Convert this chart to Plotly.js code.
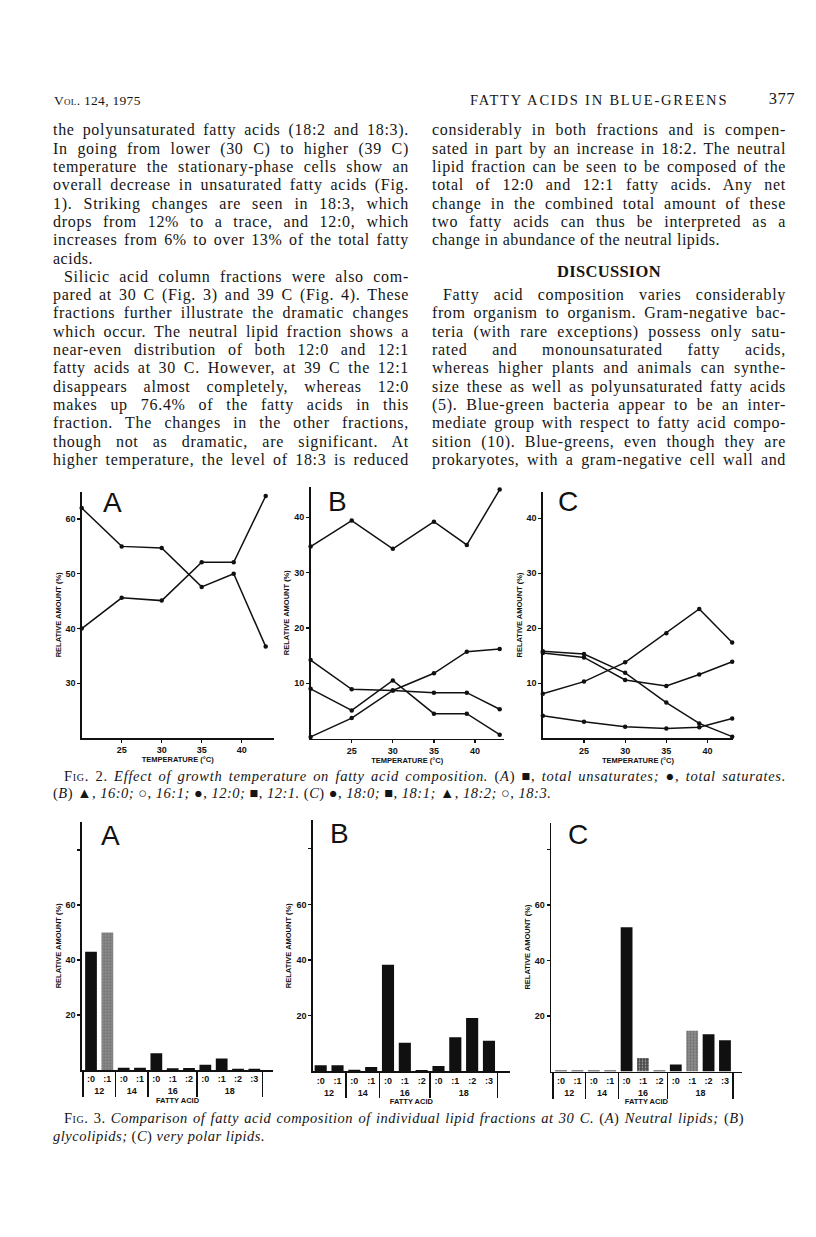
<!DOCTYPE html>
<html><head><meta charset="utf-8">
<script src="https://cdn.plot.ly/plotly-3.0.1.min.js"></script>
<style>
html,body{margin:0;padding:0;background:#fff;}
#page{position:relative;width:816px;height:1237px;overflow:hidden;background:#fff;}
#plot{position:absolute;left:0;top:0;width:816px;height:1237px;}
.ln{position:absolute;white-space:nowrap;font-family:'Liberation Serif',serif;color:#151515;}
.sc{font-variant:small-caps;}
</style></head><body>
<div id="page"><div id="plot"></div></div>
<script>
// ---------- Fig. 2 data (growth temperature, relative amount %) ----------
const temps = [20, 25, 30, 35, 39, 43];
const aTotalUnsat = [62, 55, 54.7, 47.6, 50, 36.7];
const aTotalSat   = [40, 45.6, 45.1, 52.1, 52.1, 64.2];
const b16_0 = [34.7, 39.4, 34.3, 39.2, 35, 45];
const b16_1 = [14.2, 8.9, 8.7, 8.3, 8.3, 5.3];
const b12_0 = [0.3, 3.7, 8.7, 11.8, 15.7, 16.2];
const b12_1 = [9.0, 5.1, 10.5, 4.5, 4.5, 0.7];
const c18_0 = [4.1, 3.0, 2.1, 1.8, 2.0, 3.6];
const c18_1 = [15.5, 14.7, 10.6, 9.5, 11.6, 13.9];
const c18_2 = [8.1, 10.3, 13.8, 19.1, 23.5, 17.4];
const c18_3 = [15.8, 15.3, 11.9, 6.5, 2.7, 0.3];
const tempTicks = [25, 30, 35, 40];

// ---------- Fig. 3 data (fatty acid composition at 30 C) ----------
const chainGroups = ['12','12','14','14','16','16','16','18','18','18','18'];
const bondLabels  = [':0',':1',':0',':1',':0',':1',':2',':0',':1',':2',':3'];
const neutralLipids = [43, 50, 0.8, 0.8, 6.1, 0.6, 0.7, 1.9, 4.2, 0.5, 0.5];
const glycolipids   = [2.2, 2.2, 0.6, 1.6, 38.3, 10.3, 0.5, 1.9, 12.3, 19.2, 11];
const polarLipids   = [0.4, 0.4, 0.4, 0.4, 52, 4.9, 0.4, 2.5, 14.7, 13.4, 11.3];
// bar shading: '' solid black, 'light' grey stipple, 'dark' dark stipple
const neutralShade = ['', 'light', '', '', '', '', '', '', '', '', ''];
const glycoShade   = ['', '', '', '', '', '', '', '', '', '', ''];
const polarShade   = ['', '', '', '', '', 'dark', '', '', 'light', '', ''];

const W = 816, H = 1237;
const px = v => v / W, py = v => 1 - v / H;
const INK = '#111';
const tickFont = {family: 'Liberation Sans', size: 9, color: INK, weight: 'bold'};
const titleFont = {family: 'Liberation Sans', size: 7.5, color: INK, weight: 'bold'};

function lineTrace(y, xa, ya, name) {
  return {x: temps, y: y, xaxis: xa, yaxis: ya, name: name, type: 'scatter',
    mode: 'lines+markers', cliponaxis: false,
    line: {color: INK, width: 1.5}, marker: {color: INK, size: 4.5}};
}
function barTrace(vals, shade, xa, ya, name) {
  return {x: [chainGroups, bondLabels], y: vals, xaxis: xa, yaxis: ya, name: name,
    type: 'bar', width: 0.72,
    marker: {color: shade.map(s => s === 'light' ? '#8c8c8c' : (s === 'dark' ? '#444' : '#101010')),
      line: {width: 0},
      pattern: {shape: shade.map(s => s ? '.' : ''), fgcolor: '#111',
        size: 3, solidity: 0.3, fillmode: 'overlay'}}};
}

const traces = [
  lineTrace(aTotalUnsat, 'x', 'y', 'total unsaturates'),
  lineTrace(aTotalSat, 'x', 'y', 'total saturates'),
  lineTrace(b16_0, 'x2', 'y2', '16:0'),
  lineTrace(b16_1, 'x2', 'y2', '16:1'),
  lineTrace(b12_0, 'x2', 'y2', '12:0'),
  lineTrace(b12_1, 'x2', 'y2', '12:1'),
  lineTrace(c18_0, 'x3', 'y3', '18:0'),
  lineTrace(c18_1, 'x3', 'y3', '18:1'),
  lineTrace(c18_2, 'x3', 'y3', '18:2'),
  lineTrace(c18_3, 'x3', 'y3', '18:3'),
  barTrace(neutralLipids, neutralShade, 'x4', 'y4', 'Neutral lipids'),
  barTrace(glycolipids, glycoShade, 'x5', 'y5', 'Glycolipids'),
  barTrace(polarLipids, polarShade, 'x6', 'y6', 'Very polar lipids')
];

function tempX(dom, range, anchor) {
  return {domain: dom, range: range, anchor: anchor, showline: true, linecolor: INK, linewidth: 1.5,
    showgrid: false, zeroline: false, ticks: 'outside', ticklen: 3, tickwidth: 1.2, tickcolor: INK,
    tickvals: tempTicks, ticktext: tempTicks.map(String), tickfont: tickFont,
    title: {text: 'TEMPERATURE (°C)', font: titleFont, standoff: 2}};
}
function relY(dom, range, anchor, tv) {
  return {domain: dom, range: range, anchor: anchor, showline: true, linecolor: INK, linewidth: 1.5,
    showgrid: false, zeroline: false, ticks: 'outside', ticklen: 3, tickwidth: 1.2, tickcolor: INK,
    tickvals: tv, ticktext: tv.map(v => v === 80 ? '' : String(v)), tickfont: tickFont,
    title: {text: 'RELATIVE AMOUNT (%)', font: titleFont, standoff: 3}};
}
function acidX(dom, range, anchor) {
  return {domain: dom, range: range, anchor: anchor, type: 'multicategory', showline: true,
    linecolor: INK, linewidth: 1.5, showgrid: false, zeroline: false, ticks: '',
    tickfont: tickFont, showdividers: true, dividercolor: INK, dividerwidth: 1.5,
    title: {text: 'FATTY ACID', font: titleFont, standoff: 2}};
}

function letter(t, cx, cy) {
  return {text: t, x: px(cx), y: py(cy), xref: 'paper', yref: 'paper', showarrow: false,
    xanchor: 'center', yanchor: 'middle', font: {family: 'Liberation Sans', size: 28, color: INK}};
}

const layout = {
  width: W, height: H, margin: {l: 0, r: 0, t: 0, b: 0},
  paper_bgcolor: 'rgba(0,0,0,0)', plot_bgcolor: 'rgba(0,0,0,0)', showlegend: false,
  font: {family: 'Liberation Sans', color: INK}, bargap: 0.28,
  xaxis:  tempX([px(81.7), px(273.7)], [20, 44], 'y'),
  yaxis:  relY([py(738.1), py(491.6)], [20, 65], 'x', [30, 40, 50, 60]),
  xaxis2: tempX([px(310.6), px(503.8)], [20, 43.5], 'y2'),
  yaxis2: relY([py(738.6), py(486.8)], [0, 45.5], 'x2', [10, 20, 30, 40]),
  xaxis3: tempX([px(542.8), px(733)], [20, 43.1], 'y3'),
  yaxis3: relY([py(738.3), py(491.7)], [0, 44.8], 'x3', [10, 20, 30, 40]),
  xaxis4: acidX([px(81.7), px(273.3)], [-0.57, 11.16], 'y4'),
  yaxis4: relY([py(1070), py(821.7)], [0, 90.3], 'x4', [20, 40, 60, 80]),
  xaxis5: acidX([px(312.7), px(510)], [-0.475, 11.25], 'y5'),
  yaxis5: relY([py(1071.4), py(820)], [0, 90.3], 'x5', [20, 40, 60, 80]),
  xaxis6: acidX([px(551), px(741.7)], [-0.61, 11.02], 'y6'),
  yaxis6: relY([py(1071.5), py(822.7)], [0, 89.7], 'x6', [20, 40, 60, 80]),
  annotations: [
    letter('A', 112, 502), letter('B', 337, 501), letter('C', 568, 501),
    letter('A', 110, 835), letter('B', 339, 833), letter('C', 578, 834)
  ]
};

Plotly.newPlot('plot', traces, layout, {staticPlot: true, displayModeBar: false});

// ---------- page text ----------
const page = document.getElementById('page');
function addLine(html, x, yc, width, size, opt) {
  opt = opt || {};
  const d = document.createElement('div');
  d.className = 'ln';
  d.innerHTML = html;
  d.style.fontSize = size + 'px';
  d.style.lineHeight = (size * 1.15) + 'px';
  d.style.left = x + 'px';
  d.style.top = (yc - size * 0.6) + 'px';
  if (opt.italic) d.style.fontStyle = 'italic';
  if (opt.bold) d.style.fontWeight = 'bold';
  if (opt.ls !== undefined) d.style.letterSpacing = opt.ls + 'px';
  page.appendChild(d);
  if (opt.justify) {
    const n = d.textContent.length;
    let w0 = d.getBoundingClientRect().width;
    const fill = opt.fill || 0.95;
    let ls = Math.max(0, Math.min(0.7, (fill * width - w0) / n));
    d.style.letterSpacing = ls + 'px';
    const nat = d.getBoundingClientRect().width;
    const gaps = (d.textContent.match(/ /g) || []).length;
    if (gaps > 0) d.style.wordSpacing = ((width - nat) / gaps) + 'px';
  }
  if (opt.center) {
    const w = d.getBoundingClientRect().width;
    d.style.left = (x + (width - w) / 2) + 'px';
  }
  if (opt.right) {
    const w = d.getBoundingClientRect().width;
    d.style.left = (x + width - w) + 'px';
  }
  return d;
}

const leftLines = [
  'the polyunsaturated fatty acids (18:2 and 18:3).',
  'In going from lower (30 C) to higher (39 C)',
  'temperature the stationary-phase cells show an',
  'overall decrease in unsaturated fatty acids (Fig.',
  '1). Striking changes are seen in 18:3, which',
  'drops from 12% to a trace, and 12:0, which',
  'increases from 6% to over 13% of the total fatty',
  'acids.',
  'Silicic acid column fractions were also com-',
  'pared at 30 C (Fig. 3) and 39 C (Fig. 4). These',
  'fractions further illustrate the dramatic changes',
  'which occur. The neutral lipid fraction shows a',
  'near-even distribution of both 12:0 and 12:1',
  'fatty acids at 30 C. However, at 39 C the 12:1',
  'disappears almost completely, whereas 12:0',
  'makes up 76.4% of the fatty acids in this',
  'fraction. The changes in the other fractions,',
  'though not as dramatic, are significant. At',
  'higher temperature, the level of 18:3 is reduced'
];
const rightLines = [
  ['considerably in both fractions and is compen-', 0],
  ['sated in part by an increase in 18:2. The neutral', 1],
  ['lipid fraction can be seen to be composed of the', 2],
  ['total of 12:0 and 12:1 fatty acids. Any net', 3],
  ['change in the combined total amount of these', 4],
  ['two fatty acids can thus be interpreted as a', 5],
  ['change in abundance of the neutral lipids.', 6],
  ['Fatty acid composition varies considerably', 9],
  ['from organism to organism. Gram-negative bac-', 10],
  ['teria (with rare exceptions) possess only satu-', 11],
  ['rated and monounsaturated fatty acids,', 12],
  ['whereas higher plants and animals can synthe-', 13],
  ['size these as well as polyunsaturated fatty acids', 14],
  ['(5). Blue-green bacteria appear to be an inter-', 15],
  ['mediate group with respect to fatty acid compo-', 16],
  ['sition (10). Blue-greens, even though they are', 17],
  ['prokaryotes, with a gram-negative cell wall and', 18]
];

function drawText() {
  const FS = 16, Y0 = 131, LS = 18.3;
  const LX = 53, LW = 356, RX = 432, RW = 354;
  addLine('V<span class="sc">ol</span>. 124, 1975', 54, 101, 0, 13.5, {ls: 0.3});
  addLine('FATTY ACIDS IN BLUE-GREENS', 470, 101, 0, 14.5, {ls: 1.8});
  addLine('377', 700, 100, 95, 16.5, {right: true, ls: 0.5});
  leftLines.forEach((t, i) => {
    const indent = (i === 8) ? 11 : 0;
    const last = (i === 7);
    addLine(t, LX + indent, Y0 + i * LS, LW - indent, FS, last ? {ls: 0.5} : {justify: true});
  });
  rightLines.forEach(([t, i]) => {
    const indent = (i === 9) ? 11 : 0;
    const last = (i === 6);
    addLine(t, RX + indent, Y0 + i * LS, RW - indent, FS, last ? {ls: 0.5} : {justify: true});
  });
  addLine('DISCUSSION', RX, Y0 + 7.73 * LS, RW, 16.5, {bold: true, center: true, ls: 0.3});

  // captions
  const CF = 14.5;
  addLine('F<span class="sc">ig</span>. 2. <i>Effect of growth temperature on fatty acid composition.</i> (<i>A</i>) &#9632;, <i>total unsaturates;</i> &#9679;, <i>total saturates.</i>',
          64, 777, 722, CF, {justify: true, fill: 0.97});
  addLine('(<i>B</i>) &#9650;, <i>16:0;</i> &#9675;, <i>16:1;</i> &#9679;, <i>12:0;</i> &#9632;, <i>12:1.</i> (<i>C</i>) &#9679;, <i>18:0;</i> &#9632;, <i>18:1;</i> &#9650;, <i>18:2;</i> &#9675;, <i>18:3.</i>',
          53, 794, 0, CF, {ls: 0.5});
  addLine('F<span class="sc">ig</span>. 3. <i>Comparison of fatty acid composition of individual lipid fractions at 30 C.</i> (<i>A</i>) <i>Neutral lipids;</i> (<i>B</i>)',
          64, 1119, 680, CF, {justify: true, fill: 0.97});
  addLine('<i>glycolipids;</i> (<i>C</i>) <i>very polar lipids.</i>', 53, 1137, 0, CF, {ls: 0.5});
}
if (document.fonts && document.fonts.ready) document.fonts.ready.then(drawText); else drawText();
</script>
</body></html>
